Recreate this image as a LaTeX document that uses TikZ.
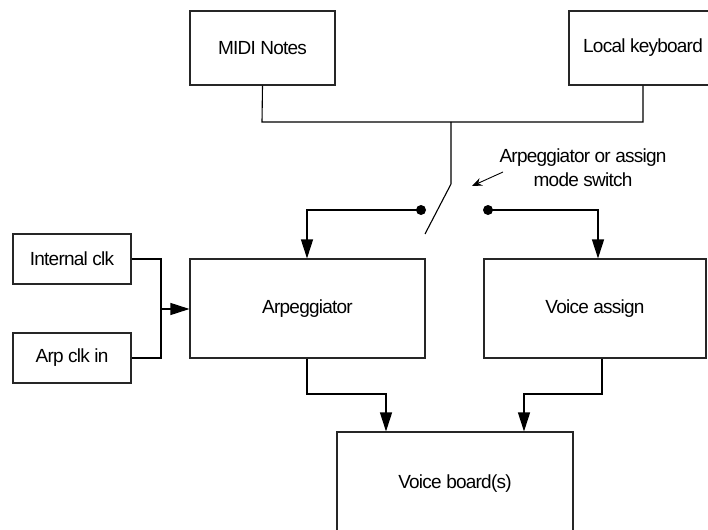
\documentclass[tikz,border=0pt]{standalone}
\usepackage{fontspec}
\setmainfont{Liberation Sans}[LetterSpace=-4]
\usetikzlibrary{arrows.meta}
\tikzset{
  blk/.style={draw=black!85, line width=1.1pt, rectangle, inner sep=0pt,
    font=\fontsize{19}{22}\selectfont},
  wire/.style={draw=black, line width=1.1pt},
  flow/.style={wire, -{Triangle[length=19pt,width=12pt]}},
  pointer/.style={wire, line width=0.9pt, -{Stealth[length=10pt,width=8pt]}},
  contact/.style={fill=black, circle, inner sep=0pt, minimum size=10pt},
  note/.style={font=\fontsize{19}{24}\selectfont, align=center}
}
\begin{document}
\begin{tikzpicture}[x=1pt, y=-1pt]
  \useasboundingbox (0,0) rectangle (708,529);
  \clip (0,0) rectangle (708,529);

  % sources
  \node[blk, minimum width=145pt, minimum height=74pt] (midi) at (262.5,48) {MIDI Notes};
  \node[blk, minimum width=148pt, minimum height=74pt] (local) at (643,48) {Local keyboard};

  % clock sources
  \node[blk, minimum width=118pt, minimum height=50pt] (intclk) at (72,259) {Internal clk};
  \node[blk, minimum width=118pt, minimum height=50pt] (arpclk) at (72,358) {Arp clk in};

  % processing blocks
  \node[blk, minimum width=235pt, minimum height=99pt] (arp) at (307.5,308.5) {Arpeggiator};
  \node[blk, minimum width=222pt, minimum height=99pt] (vassign) at (595,308.5) {Voice assign};

  % destination
  \node[blk, minimum width=236pt, minimum height=104pt] (vboard) at (455,484) {Voice board(s)};

  % note bus joining both sources
  \coordinate (busL) at (262,122);
  \coordinate (busR) at (643,122);
  \coordinate (busJ) at (451,122);
  \draw[wire] (midi.south) -- (busL) -- (busR) -- (local.south);

  % mode switch
  \coordinate (pivot) at (451,184);
  \coordinate (blade) at (425,234);
  \draw[wire] (busJ) -- (pivot) -- (blade);
  \node[contact] (cL) at (421,210) {};
  \node[contact] (cR) at (488,210) {};
  \coordinate (toArp) at (307,210);
  \coordinate (toVA) at (598,210);
  \draw[flow] (cL.center) -- (toArp) -- (arp.north -| toArp);
  \draw[flow] (cR.center) -- (toVA) -- (vassign.north -| toVA);

  % switch annotation
  \node[note] (lbl) at (583,168) {Arpeggiator or assign\\mode switch};
  \coordinate (ptrS) at (503,172);
  \coordinate (ptrE) at (472,186);
  \draw[pointer] (ptrS) -- (ptrE);

  % clock merge
  \coordinate (mergeT) at (161,259);
  \coordinate (mergeB) at (161,358);
  \coordinate (mergeM) at (161,309);
  \draw[wire] (intclk.east) -- (mergeT) -- (mergeB) -- (arpclk.east);
  \draw[flow] (mergeM) -- (arp.west |- mergeM);

  % outputs to voice boards
  \coordinate (aDrop) at (307,394);
  \coordinate (aIn) at (386,394);
  \coordinate (vDrop) at (602,394);
  \coordinate (vIn) at (524,394);
  \draw[flow] (arp.south -| aDrop) -- (aDrop) -- (aIn) -- (vboard.north -| aIn);
  \draw[flow] (vassign.south -| vDrop) -- (vDrop) -- (vIn) -- (vboard.north -| vIn);
\end{tikzpicture}
\end{document}
